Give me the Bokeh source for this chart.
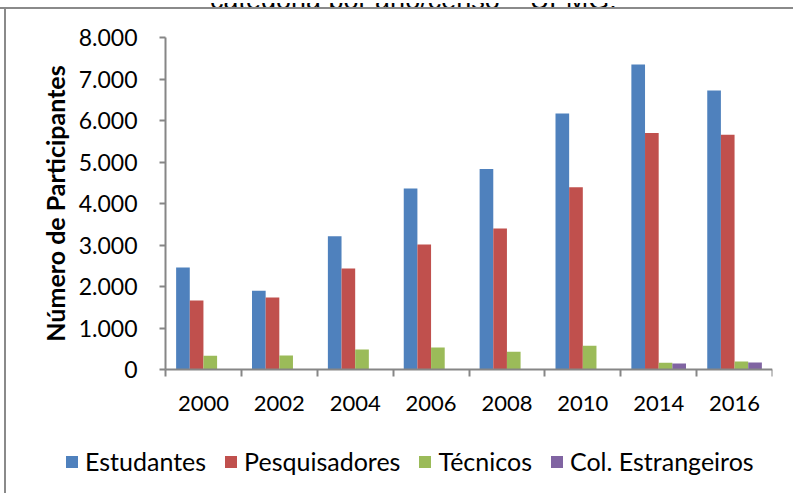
from bokeh.plotting import figure
from bokeh.models import (ColumnDataSource, FixedTicker, Legend, LegendItem, Div, Range1d)
from bokeh.layouts import column
from bokeh.embed import file_html
from bokeh.resources import INLINE

title_text = "categoria por ano/censo – UFMG."
years = ["2000", "2002", "2004", "2006", "2008", "2010", "2014", "2016"]
series_names = ["Estudantes", "Pesquisadores", "Técnicos", "Col. Estrangeiros"]
estudantes = [2460, 1895, 3210, 4360, 4830, 6170, 7350, 6720]
pesquisadores = [1660, 1735, 2435, 3010, 3400, 4390, 5700, 5655]
tecnicos = [330, 337, 482, 530, 426, 571, 161, 193]
estrangeiros = [0, 0, 0, 0, 0, 0, 145, 169]
y_ticks = [0, 1000, 2000, 3000, 4000, 5000, 6000, 7000, 8000]
y_tick_labels = ["0", "1.000", "2.000", "3.000", "4.000", "5.000", "6.000", "7.000", "8.000"]
y_axis_title = "Número de Participantes"

colors = ["#4F81BD", "#C0504D", "#9BBB59", "#8064A2"]
values = [estudantes, pesquisadores, tecnicos, estrangeiros]
offsets = [-0.27, -0.09, 0.09, 0.27]
bar_w = 0.18

FONT = "Lato"
GRAY = "#868686"

W = 786
H = 484
# plot area spans x 0..8 over 607px, y 0..8000 over 332px;
# the frame is extended left, up and down so axis labels and legend fit inside
px_x = 607 / len(years)
px_y = 332 / 8000
x_start = -159 / px_x
y_start = -122 / px_y
y_end = 8000 + 18 / px_y

p = figure(width=W, height=H, output_backend="svg", toolbar_location=None,
           x_range=Range1d(x_start, len(years)), y_range=Range1d(y_start, y_end),
           min_border_left=0, min_border_right=20, min_border_top=10,
           min_border_bottom=2)
p.outline_line_color = None
p.grid.visible = False
p.background_fill_color = "white"
p.border_fill_color = "white"

centers = [i + 0.5 for i in range(len(years))]
items = []
for name, vals, col, off in zip(series_names, values, colors, offsets):
    src = ColumnDataSource(dict(x=[c + off for c in centers], top=vals))
    r = p.vbar(x="x", top="top", width=bar_w, source=src, fill_color=col,
               line_color=None)
    items.append(LegendItem(label=name, renderers=[r]))

# x axis
p.xaxis.fixed_location = 0
p.xaxis.bounds = (0, len(years))
xt = FixedTicker(ticks=centers, minor_ticks=list(range(len(years) + 1)))
p.xaxis.ticker = xt
p.xaxis.major_label_overrides = {c: y for c, y in zip(centers, years)}
p.xaxis.major_tick_line_color = None
p.xaxis.minor_tick_line_color = GRAY
p.xaxis.minor_tick_line_width = 2
p.xaxis.minor_tick_out = 7
p.xaxis.minor_tick_in = 0
p.xaxis.axis_line_color = GRAY
p.xaxis.axis_line_width = 2
p.xaxis.major_label_text_font = FONT
p.xaxis.major_label_text_font_size = "22px"
p.xaxis.major_label_text_color = "#000000"
p.xaxis.major_label_standoff = 19

# y axis
p.yaxis.fixed_location = 0
p.yaxis.bounds = (0, 8000)
p.yaxis.ticker = FixedTicker(ticks=y_ticks, minor_ticks=[])
p.yaxis.major_label_overrides = {t: l for t, l in zip(y_ticks, y_tick_labels)}
p.yaxis.axis_line_color = GRAY
p.yaxis.axis_line_width = 2
p.yaxis.major_tick_line_color = GRAY
p.yaxis.major_tick_line_width = 2
p.yaxis.major_tick_out = 6
p.yaxis.major_tick_in = 0
p.yaxis.major_label_text_font = FONT
p.yaxis.major_label_text_font_size = "23px"
p.yaxis.major_label_text_color = "#000000"
p.yaxis.major_label_standoff = 22
p.yaxis.axis_label = y_axis_title
p.yaxis.axis_label_text_font = FONT
p.yaxis.axis_label_text_font_style = "bold"
p.yaxis.axis_label_text_font_size = "25px"
p.yaxis.axis_label_text_color = "#000000"
p.yaxis.axis_label_standoff = 6

legend = Legend(items=items, orientation="horizontal", location=(58, 15),
                label_text_font=FONT, label_text_font_size="25px",
                label_text_color="#000000",
                glyph_width=15, glyph_height=15, label_standoff=6, spacing=17,
                padding=0, margin=0, border_line_color=None,
                background_fill_alpha=0)
p.add_layout(legend, "center")
p.styles = {"border-left": "2px solid #8a8a8a", "margin-left": "4px"}
p.margin = 0

title_div = Div(
    text=('<div style="position:relative;height:9px;width:793px;overflow:hidden">'
          '<div style="position:absolute;left:210px;top:-16px;'
          'font-family:\'Liberation Sans\';font-size:27px;line-height:27px;'
          'white-space:nowrap;color:#000">' + title_text + '</div></div>'),
    width=793, height=9, margin=0,
    styles={"border-bottom": "2px solid #8a8a8a", "overflow": "hidden"})

layout = column(title_div, p, spacing=0)

with open("out.html", "w") as f:
    f.write(file_html(layout, INLINE))
